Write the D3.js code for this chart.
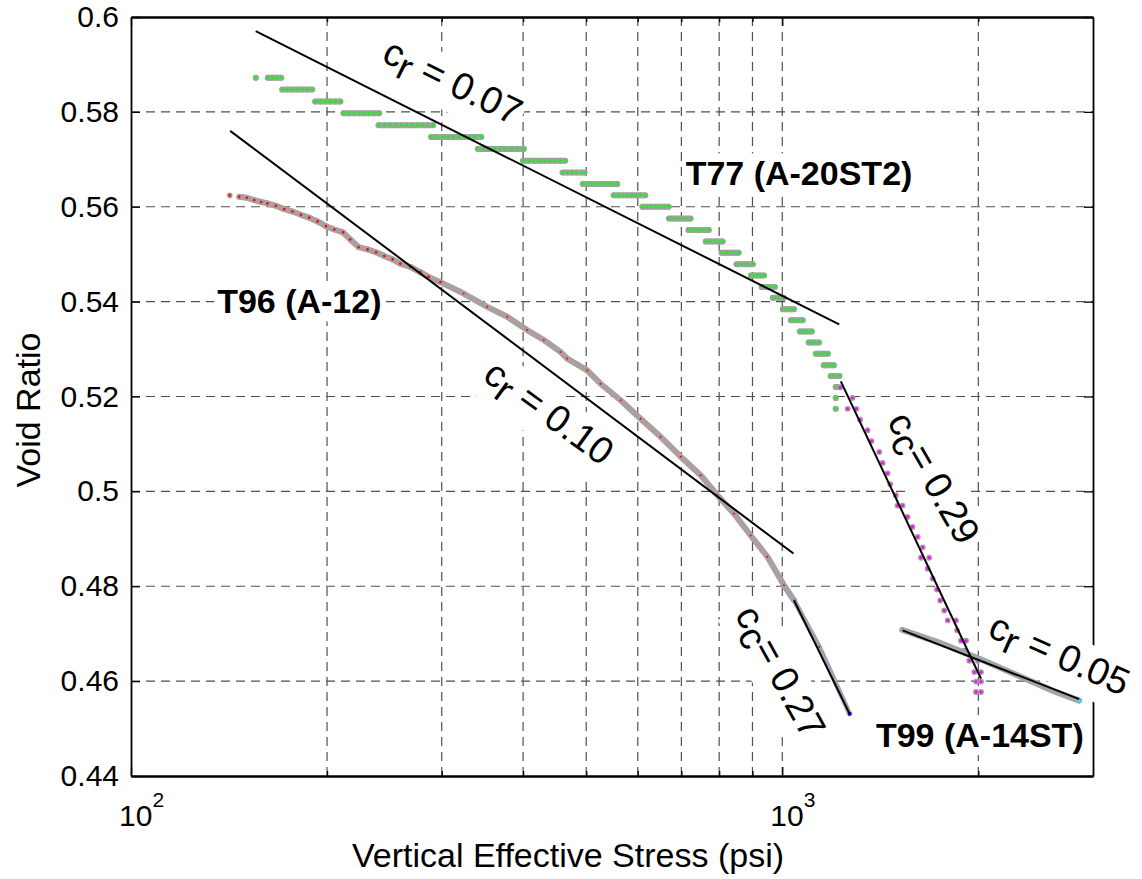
<!DOCTYPE html>
<html>
<head>
<meta charset="utf-8">
<script src="https://cdn.jsdelivr.net/npm/d3@7"></script>
<style>
  body { margin: 0; background: #fff; }
  svg { font-family: "Liberation Sans", Arial, Helvetica, sans-serif; }
</style>
</head>
<body>
<div id="chart"></div>
<script>
// ---- axis values ----
var xDomain = [100, 3000];
var yDomain = [0.44, 0.6];
var xMajor = [100, 1000];
var xMajorExp = ["2", "3"];
var xMinor = [200, 300, 400, 500, 600, 700, 800, 900, 2000];
var xGrid = [200, 300, 400, 500, 600, 700, 800, 900, 1000, 2000];
var yTicks = [0.44, 0.46, 0.48, 0.5, 0.52, 0.54, 0.56, 0.58, 0.6];
var yTickLabels = ["0.44", "0.46", "0.48", "0.5", "0.52", "0.54", "0.56", "0.58", "0.6"];

// ---- T77 (A-20ST2): void ratio steps, stresses on each step ----
var t77Void = [0.5872, 0.5872, 0.5847, 0.5822, 0.5797, 0.5772, 0.5747, 0.5722, 0.5697, 0.5672,
               0.5648, 0.5624, 0.5600, 0.5575, 0.5551, 0.5527, 0.5503, 0.5479, 0.5455, 0.5431,
               0.5408, 0.5384, 0.5361, 0.5337, 0.5314, 0.5290, 0.5266, 0.5243, 0.5220, 0.5197, 0.5174];
var t77Stress = [
  [155.5],
  [162.2, 164.9, 167.5, 170.1],
  [170.7, 173.7, 176.8, 180.0, 183.2, 186.5, 189.8],
  [191.8, 195.2, 198.7, 202.3, 205.9, 209.6],
  [212, 216, 220, 224, 228, 232, 236, 240.5],
  [240, 245, 250, 255, 260, 265, 270, 275, 280, 285, 291],
  [289, 295, 301, 307, 313, 319, 325, 331, 338, 345],
  [341, 348, 355, 362, 369, 376, 384, 392, 401],
  [400, 408, 416, 424, 432, 440, 448, 456, 464],
  [460, 468, 476, 484, 492, 497],
  [494, 502, 510, 518, 526, 534, 542, 550, 558],
  [551, 560, 569, 578, 587, 596, 606, 616],
  [610, 620, 630, 640, 650, 660, 669],
  [670, 677, 684, 691, 698, 705, 712, 719, 723],
  [718, 726, 734, 742, 750, 758, 766, 771],
  [763, 771, 779, 787, 795, 803, 810],
  [807, 816, 825, 834, 843, 851, 857],
  [851, 860, 869, 878, 887, 895, 901],
  [895, 905, 915, 925, 937],
  [930, 940, 950, 961, 974],
  [967, 977, 987, 997, 1005],
  [1002, 1012, 1022, 1032, 1042],
  [1031, 1042, 1053, 1064, 1075],
  [1064, 1075, 1087, 1099, 1110],
  [1098, 1110, 1123, 1138],
  [1126, 1138, 1150, 1162, 1175],
  [1158, 1170, 1185, 1200],
  [1187, 1200, 1212, 1224],
  [1208, 1216],
  [1208],
  [1208]
];

// ---- T96 (A-12) ----
var t96Stress = [141.8, 146.6, 150.6, 154.6, 158.5, 162.0, 166.9, 171.9, 177.0, 182.4,
                 187.8, 193.4, 199.2, 205.2, 211.6, 217.1, 223.6, 230.8, 237.8, 244.9,
                 252.2, 259.1, 268.5, 278.1, 286.4, 298.6, 324.2, 352.4, 378.1, 405.8,
                 430.4, 456.5, 467.5, 501.8, 526.0, 564.7, 605.9, 650.5, 698.3, 749.4,
                 795.0, 843.2, 894.4, 948.9, 1006, 1043, 1140, 1269];
var t96Void = [0.5624, 0.5621, 0.5619, 0.5614, 0.5610, 0.5607, 0.5602, 0.5595, 0.5590, 0.5583,
               0.5577, 0.5569, 0.5559, 0.5552, 0.5546, 0.5531, 0.5515, 0.5510, 0.5504, 0.5496,
               0.5489, 0.5480, 0.5473, 0.5462, 0.5452, 0.5441, 0.5417, 0.5389, 0.5368, 0.5340,
               0.5319, 0.5294, 0.5280, 0.5255, 0.5227, 0.5192, 0.5153, 0.5115, 0.5073, 0.5034,
               0.4992, 0.4953, 0.4907, 0.4862, 0.4802, 0.4770, 0.4672, 0.4531];

// ---- T99 (A-14ST) loading ----
var t99Stress = [1227, 1282, 1260, 1300, 1317, 1352, 1371, 1409, 1426, 1451,
                 1465, 1494, 1503, 1530, 1557, 1585, 1614, 1643, 1633, 1681,
                 1672, 1702, 1728, 1748, 1773, 1795, 1848, 1855, 1881, 1915,
                 1903, 1937, 1996, 1972, 2019, 1984, 2019, 1984, 2019];
var t99Void = [0.5219, 0.5197, 0.5174, 0.5174, 0.5151, 0.5129, 0.5106, 0.5083, 0.5060, 0.5038,
               0.5015, 0.4992, 0.4970, 0.4970, 0.4946, 0.4925, 0.4904, 0.4882, 0.4860, 0.4860,
               0.4837, 0.4816, 0.4793, 0.4770, 0.4749, 0.4728, 0.4728, 0.4707, 0.4685, 0.4685,
               0.4664, 0.4643, 0.4643, 0.4619, 0.4619, 0.4599, 0.4599, 0.4577, 0.4577];

// ---- T99 second branch (grey band) ----
var t99bStress = [1528, 1750, 2000, 2300, 2600, 2857];
var t99bVoid = [0.4708, 0.4680, 0.4648, 0.4612, 0.4580, 0.4559];

// ---- fitted lines ----
var fitStress1 = [155.4, 142.0, 1042.7, 1230, 1530];
var fitVoid1 = [0.5970, 0.5760, 0.4770, 0.5232, 0.4707];
var fitStress2 = [1222.8, 1040.4, 1269, 2019, 2857];
var fitVoid2 = [0.5352, 0.4869, 0.4531, 0.4605, 0.4562];

// ---- annotations ----
var fitLabelSub = ["r", "r", "c", "c", "r"];
var fitLabelRest = [" = 0.07", " = 0.10", "= 0.27", "= 0.29", " = 0.05"];
var fitLabelStress = [311.5, 437.6, 991.2, 1703.6, 2661];
var fitLabelVoid = [0.5862, 0.5165, 0.4619, 0.5028, 0.4655];
var fitLabelAngle = [26, 36, 61, 60, 24];

var testNames = ["T96 (A-12)", "T77 (A-20ST2)", "T99 (A-14ST)"];
var testStress = [135.6, 710.6, 1392.4];
var testVoid = [0.5375, 0.5645, 0.4461];

var margin = {top: 17, right: 49, bottom: 103, left: 131},
    width = 1142 - margin.left - margin.right,
    height = 879 - margin.top - margin.bottom;

var x = d3.scaleLog().domain(xDomain).range([0, width]);
var y = d3.scaleLinear().domain(yDomain).range([height, 0]);

var svg = d3.select("#chart").append("svg")
    .attr("width", 1142)
    .attr("height", 879)
  .append("g")
    .attr("transform", "translate(" + margin.left + "," + margin.top + ")");

// grid
var gridColor = "#505050";
svg.selectAll(".vgrid").data(xGrid).enter().append("line")
    .attr("class", "vgrid")
    .attr("x1", function(d) { return x(d); }).attr("x2", function(d) { return x(d); })
    .attr("y1", 0).attr("y2", height)
    .attr("stroke", gridColor).attr("stroke-width", 1.2).attr("stroke-dasharray", "9,6");
svg.selectAll(".hgrid").data(yTicks.slice(1, -1)).enter().append("line")
    .attr("class", "hgrid")
    .attr("x1", 0).attr("x2", width)
    .attr("y1", function(d) { return y(d); }).attr("y2", function(d) { return y(d); })
    .attr("stroke", gridColor).attr("stroke-width", 1.2).attr("stroke-dasharray", "9,6");

var line = d3.line()
    .x(function(d) { return x(d[0]); })
    .y(function(d) { return y(d[1]); });

// T96: grey band + red markers
var t96 = t96Stress.map(function(s, i) { return [s, t96Void[i]]; });
svg.append("path")
    .attr("d", line(t96.slice(1).filter(function(d) { return d[0] <= 1043; })))
    .attr("fill", "none").attr("stroke", "#ab9f9f").attr("stroke-width", 6)
    .attr("stroke-linejoin", "round").attr("stroke-linecap", "round");
svg.append("path")
    .attr("d", line(t96.filter(function(d) { return d[0] >= 1006; })))
    .attr("fill", "none").attr("stroke", "#a3a3b0").attr("stroke-width", 5)
    .attr("stroke-linecap", "round");
svg.selectAll(".t96").data(t96.slice(0, -1)).enter().append("circle")
    .attr("class", "t96")
    .attr("cx", function(d) { return x(d[0]); })
    .attr("cy", function(d) { return y(d[1]); })
    .attr("r", function(d) { return d[0] < 300 ? 2.1 : 1.0; })
    .attr("fill", "#ff0000")
    .attr("stroke", function(d) { return d[0] < 300 ? "#ab9f9f" : "none"; })
    .attr("stroke-width", 1.5);
svg.append("circle")
    .attr("cx", x(t96Stress[t96Stress.length - 1]))
    .attr("cy", y(t96Void[t96Void.length - 1]))
    .attr("r", 2).attr("fill", "#0000ff");

// T77: grey steps + green markers
var steps = svg.append("g");
t77Stress.forEach(function(row, i) {
  var pts = row.map(function(s) { return [s, t77Void[i]]; });
  steps.append("path")
      .attr("d", line(pts))
      .attr("fill", "none").attr("stroke", "#9ba59b").attr("stroke-width", 6)
      .attr("stroke-linecap", "round");
  pts.forEach(function(p) {
    steps.append("circle")
        .attr("cx", x(p[0])).attr("cy", y(p[1]))
        .attr("r", 2.2)
        .attr("fill", "#00ff00")
        .attr("stroke", "#9ba59b").attr("stroke-width", 1.5);
  });
});

// T99 loading: magenta markers
var t99 = t99Stress.map(function(s, i) { return [s, t99Void[i]]; });
svg.selectAll(".t99").data(t99).enter().append("circle")
    .attr("class", "t99")
    .attr("cx", function(d) { return x(d[0]); })
    .attr("cy", function(d) { return y(d[1]); })
    .attr("r", 2.2)
    .attr("fill", "#ff00ff")
    .attr("stroke", "#a898a8").attr("stroke-width", 1.5);

// T99 second branch
var t99b = t99bStress.map(function(s, i) { return [s, t99bVoid[i]]; });
svg.append("path")
    .attr("d", line(t99b))
    .attr("fill", "none").attr("stroke", "#9ea6a6").attr("stroke-width", 6)
    .attr("stroke-linecap", "round");
svg.append("circle")
    .attr("cx", x(t99bStress[t99bStress.length - 1]))
    .attr("cy", y(t99bVoid[t99bVoid.length - 1]))
    .attr("r", 2.3).attr("fill", "#00ffff").attr("stroke", "#9ea6a6").attr("stroke-width", 1);

// fitted lines
fitStress1.forEach(function(s, i) {
  svg.append("path")
      .attr("d", line([[s, fitVoid1[i]], [fitStress2[i], fitVoid2[i]]]))
      .attr("stroke", "#000").attr("stroke-width", 2).attr("fill", "none");
});

// frame and inward ticks
var yAxisL = d3.axisLeft(y).tickValues(yTicks).tickSizeInner(-9).tickSizeOuter(0).tickPadding(12)
    .tickFormat(function(d, i) { return yTickLabels[i]; });
var yAxisR = d3.axisRight(y).tickValues(yTicks).tickSizeInner(-9).tickSizeOuter(0).tickFormat("");
var xAxisB = d3.axisBottom(x).tickValues(xMajor).tickSizeInner(-9).tickSizeOuter(0).tickFormat("");
var xAxisT = d3.axisTop(x).tickValues(xMajor).tickSizeInner(-9).tickSizeOuter(0).tickFormat("");
var xMinorB = d3.axisBottom(x).tickValues(xMinor).tickSizeInner(-5).tickSizeOuter(0).tickFormat("");
var xMinorT = d3.axisTop(x).tickValues(xMinor).tickSizeInner(-5).tickSizeOuter(0).tickFormat("");

var gl = svg.append("g").call(yAxisL);
svg.append("g").attr("transform", "translate(" + width + ",0)").call(yAxisR);
svg.append("g").attr("transform", "translate(0," + height + ")").call(xAxisB);
svg.append("g").call(xAxisT);
svg.append("g").attr("transform", "translate(0," + height + ")").call(xMinorB);
svg.append("g").call(xMinorT);
svg.selectAll(".domain").attr("stroke", "#000").attr("stroke-width", 1.8);
svg.selectAll(".tick line").attr("stroke", "#000").attr("stroke-width", 1.3);
gl.selectAll(".tick text")
    .style("font-size", "30px")
    .attr("fill", "#000")
    .attr("font-family", "Liberation Sans, Arial, sans-serif");

// x tick labels 10^n
svg.selectAll(".xlab").data(xMajor).enter().append("text")
    .attr("class", "xlab")
    .attr("x", function(d) { return x(d) - 12; })
    .attr("y", height + 50)
    .style("font-size", "30px")
    .each(function(d, i) {
      var t = d3.select(this);
      t.append("tspan").text("10");
      t.append("tspan").attr("dy", -19).style("font-size", "21px").text(xMajorExp[i]);
    });

// axis titles
svg.append("text")
    .attr("x", 437).attr("y", height + 91)
    .attr("text-anchor", "middle")
    .style("font-size", "34px")
    .text("Vertical Effective Stress (psi)");
svg.append("text")
    .attr("transform", "translate(-91," + 393 + ") rotate(-90)")
    .attr("text-anchor", "middle")
    .style("font-size", "34px")
    .text("Void Ratio");

// annotations with white background
function addBox(g, text) {
  var b = text.node().getBBox();
  g.insert("rect", "text")
      .attr("x", b.x - 3).attr("y", b.y - 1)
      .attr("width", b.width + 6).attr("height", b.height + 2)
      .attr("fill", "#fff");
}

fitLabelSub.forEach(function(sub, i) {
  var g = svg.append("g")
      .attr("transform", "translate(" + x(fitLabelStress[i]) + "," + y(fitLabelVoid[i]) + ") rotate(" + fitLabelAngle[i] + ")");
  var t = g.append("text")
      .attr("text-anchor", "middle")
      .attr("y", 12)
      .style("font-size", "38px")
      .style("white-space", "pre");
  t.append("tspan").text("c");
  t.append("tspan").attr("dy", 8).text(sub);
  t.append("tspan").attr("dy", -8).text(fitLabelRest[i]);
  addBox(g, t);
});

testNames.forEach(function(name, i) {
  var g = svg.append("g")
      .attr("transform", "translate(" + x(testStress[i]) + "," + y(testVoid[i]) + ")");
  var t = g.append("text")
      .style("font-size", "34px")
      .style("font-weight", "bold")
      .text(name);
  addBox(g, t);
});
</script>
</body>
</html>
